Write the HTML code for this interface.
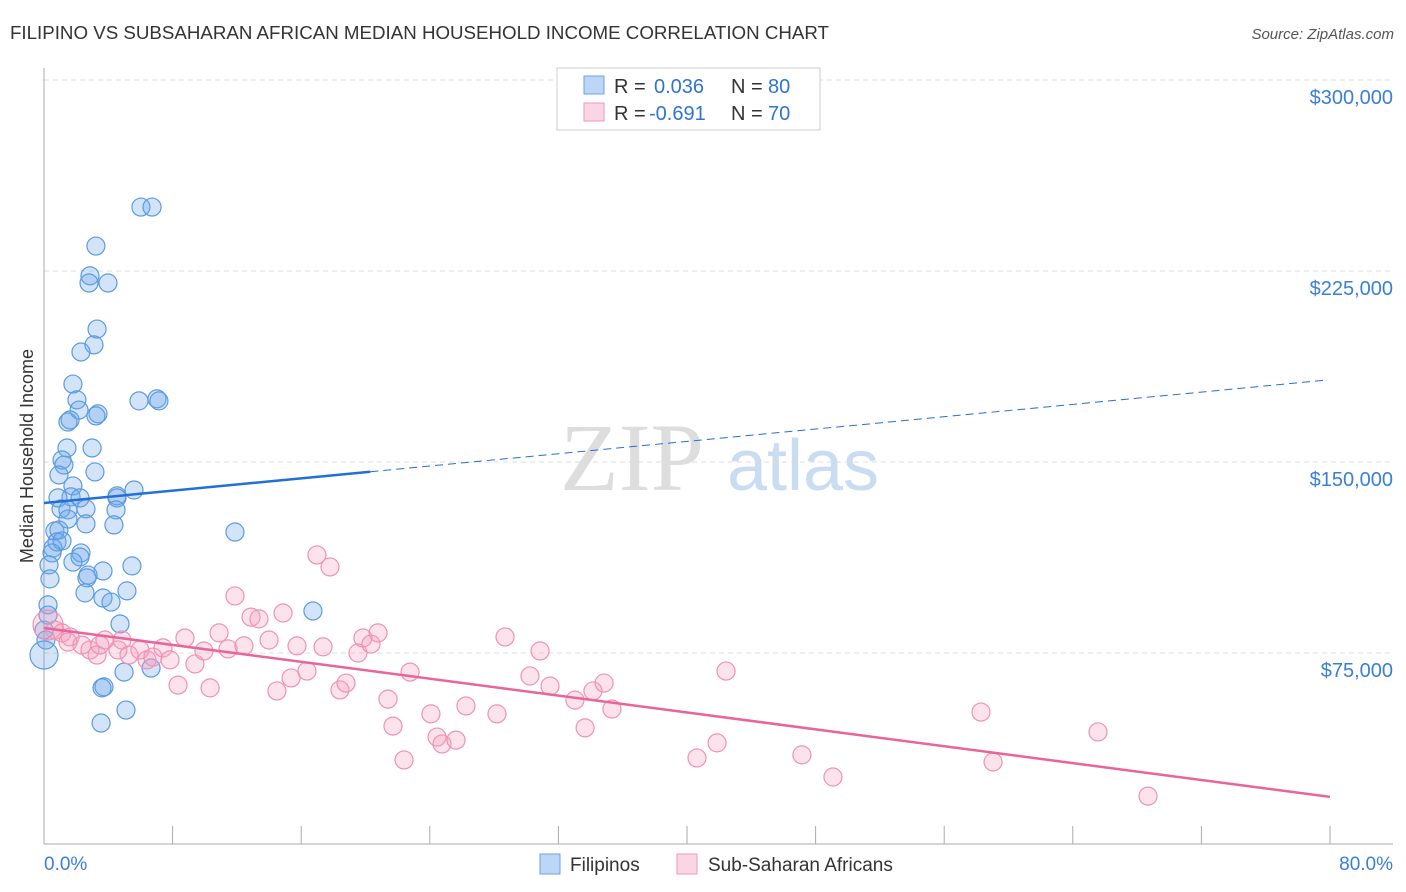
<!DOCTYPE html>
<html><head><meta charset="utf-8"><style>
body{margin:0;background:#fff;font-family:"Liberation Sans",sans-serif;}
svg{display:block}
</style></head><body>
<svg width="1406" height="892" id="chart">
<text x="10" y="39" font-size="18" fill="#333" textLength="819" lengthAdjust="spacingAndGlyphs">FILIPINO VS SUBSAHARAN AFRICAN MEDIAN HOUSEHOLD INCOME CORRELATION CHART</text>
<text x="1394" y="39" font-size="15" fill="#555" font-style="italic" text-anchor="end">Source: ZipAtlas.com</text>
<text x="33" y="456" font-size="18" fill="#333" text-anchor="middle" transform="rotate(-90 33 456)">Median Household Income</text>
<g>
<text x="632" y="490" font-size="96" fill="#ddd" font-family="Liberation Serif,serif" text-anchor="middle">ZIP</text>
<text x="803" y="490" font-size="72" fill="#c9dcf2" text-anchor="middle">atlas</text>
</g>
<g id="grid"></g>
<g id="axes"></g>
<g id="marks"></g>
<g>
<rect x="557" y="68" width="263" height="62" fill="#fff" stroke="#ccc"/>
<rect x="584" y="76" width="20" height="18" fill="rgba(110,165,235,0.45)" stroke="#6aa3e6"/>
<rect x="584" y="103" width="20" height="18" fill="rgba(245,165,195,0.45)" stroke="#ee9ab8"/>
<text x="614" y="93" font-size="20" fill="#333">R =</text>
<text x="654" y="93" font-size="20" fill="#2f74d0">0.036</text>
<text x="731" y="93" font-size="20" fill="#333">N =</text>
<text x="768" y="93" font-size="20" fill="#2f74d0">80</text>
<text x="614" y="120" font-size="20" fill="#333">R =</text>
<text x="649" y="120" font-size="20" fill="#2f74d0">-0.691</text>
<text x="731" y="120" font-size="20" fill="#333">N =</text>
<text x="768" y="120" font-size="20" fill="#2f74d0">70</text>
</g>
<g>
<rect x="540" y="854" width="20" height="20" fill="rgba(110,165,235,0.45)" stroke="#6aa3e6"/>
<text x="570" y="871" font-size="19" fill="#333">Filipinos</text>
<rect x="677" y="854" width="20" height="20" fill="rgba(245,165,195,0.45)" stroke="#ee9ab8"/>
<text x="708" y="871" font-size="19" fill="#333">Sub-Saharan Africans</text>
</g>
</svg>
<script>
const yTicks=[75,150,225,300];
const yTickLabels=["$75,000","$150,000","$225,000","$300,000"];
const xTickLabels=["0.0%","80.0%"];
const blueX=[6.03,6.72,3.23,2.86,3.98,2.80,3.30,3.11,2.30,1.80,2.05,2.18,7.03,7.15,5.91,3.36,3.23,1.49,1.62,1.43,2.99,1.12,1.24,3.17,1.80,0.93,5.60,4.54,4.54,1.68,2.24,0.87,1.06,1.49,2.61,4.48,1.49,0.68,0.93,4.35,2.61,11.88,0.81,0.56,1.12,2.30,2.24,0.50,0.31,5.47,3.67,1.80,2.74,2.67,0.37,2.55,5.16,3.67,4.17,16.73,0.25,0.25,4.73,0,0.12,0,6.66,4.98,3.61,3.73,3.55,5.10];
const blueY=[250.1,250.1,234.8,223.1,220.3,220.3,202.2,196.0,193.2,180.6,174.4,170.4,174.8,174.0,174.0,168.9,168.1,165.7,166.5,155.5,155.5,150.8,148.8,146.1,140.6,144.9,139.0,136.7,135.9,136.3,135.9,135.9,131.6,131.2,131.6,131.2,127.6,122.9,123.3,125.3,125.7,122.5,118.6,116.2,119.0,114.3,112.7,114.3,109.6,109.2,107.2,110.7,105.6,104.5,104.1,98.6,99.4,96.6,95.0,91.5,93.9,89.9,86.4,84.0,80.1,74.2,69.1,67.5,61.3,61.7,47.5,52.6];
const blueR=[9,9,9,9,9,9,9,9,9,9,9,9,9,9,9,9,9,9,9,9,9,9,9,9,9,9,9,9,9,9,9,9,9,9,9,9,9,9,9,9,9,9,9,9,9,9,9,9,9,9,9,9,9,9,9,9,9,9,9,9,9,9,9,9,9,14,9,9,9,9,9,9];
const pinkX=[0.25,0.68,1.12,1.62,1.49,2.36,2.86,3.30,3.48,3.79,4.60,4.85,5.29,5.97,6.41,6.78,7.40,7.84,8.34,8.77,9.39,9.95,10.33,10.89,11.45,11.88,12.44,12.88,13.37,14.00,14.49,14.87,15.37,15.74,16.36,16.98,17.36,17.79,18.41,18.79,19.53,19.84,20.34,20.78,21.40,21.71,22.40,22.77,24.07,24.45,24.76,25.63,26.25,28.18,28.68,30.23,30.86,31.48,33.03,33.66,34.15,34.84,35.33,40.62,41.87,42.43,47.15,49.08,58.29,59.04,65.57,68.68];
const pinkY=[86.0,84.0,82.9,81.3,79.3,78.1,76.2,74.2,78.1,80.1,76.2,80.1,74.2,76.2,72.3,73.4,77.0,72.3,62.4,80.9,70.7,75.8,61.3,82.9,76.6,97.4,77.8,89.1,88.4,80.1,60.1,90.7,65.2,77.8,67.9,113.5,77.4,108.8,60.5,63.2,75.0,80.9,78.5,82.9,56.9,46.3,33.0,67.5,51.1,42.0,39.3,40.8,54.2,51.1,81.3,66.0,75.8,62.0,56.5,45.6,60.1,63.2,53.0,33.8,39.7,67.9,35.0,26.3,51.8,32.2,44.0,18.8];
const blueLine=[133.9,182.3];
const pinkLine=[84.8,18.5];
const NS="http://www.w3.org/2000/svg";
const X0=44,X1=1330,Y0=844,PXK=191/75;
function sx(v){return X0+(X1-X0)*v/80;}
function sy(v){return Y0-v*PXK;}
function mk(tag,attrs,parent){const e=document.createElementNS(NS,tag);for(const k in attrs)e.setAttribute(k,attrs[k]);parent.appendChild(e);return e;}
const grid=document.getElementById('grid'),axes=document.getElementById('axes'),marks=document.getElementById('marks');
yTicks.forEach((t,i)=>{
 const l=mk('line',{x1:X0,x2:1393,y1:sy(t),y2:sy(t),stroke:'#ddd','stroke-dasharray':'5,4'},grid);
 
 
 const tx=mk('text',{x:1393,y:sy(t)+24,'font-size':20,fill:'#3a7fd8','text-anchor':'end'},axes);
 tx.textContent=yTickLabels[i];
 
 
});
const ya=mk('line',{x1:X0,x2:X0,y1:68,y2:Y0,stroke:'#aaa'},axes);


const xa=mk('line',{x1:X0,x2:1393,y1:Y0,y2:Y0,stroke:'#aaa'},axes);


for(let i=0;i<=10;i++){
 const tk=mk('line',{x1:sx(i*8),x2:sx(i*8),y1:826,y2:Y0,stroke:'#aaa'},axes);
 
 
}
[[0,'start',X0],[1,'end',1393]].forEach(([i,a,x])=>{
 const t=mk('text',{x:x,y:870,'font-size':19,fill:'#3a7fd8','text-anchor':a},axes);
 t.textContent=xTickLabels[i];
 
 
});
blueX.forEach((x,i)=>{
 const c=mk('circle',{cx:sx(x),cy:sy(blueY[i]),r:blueR[i],fill:'rgba(110,165,235,0.3)',stroke:'#5b9be0','stroke-width':1.2},marks);
 
 
});
pinkX.forEach((x,i)=>{
 const c=mk('circle',{cx:sx(x),cy:sy(pinkY[i]),r:i==0?15:9,fill:'rgba(245,160,190,0.3)',stroke:'#ee92b4','stroke-width':1.2},marks);
 
 
});
function lv(a,x){return a[0]+(a[1]-a[0])*x/80;}
const bs=mk('line',{x1:sx(0),y1:sy(lv(blueLine,0)),x2:sx(20.3),y2:sy(lv(blueLine,20.3)),stroke:'#2170d6','stroke-width':2.5},marks);


const bd=mk('line',{x1:sx(20.3),y1:sy(lv(blueLine,20.3)),x2:sx(79.7),y2:sy(lv(blueLine,79.7)),stroke:'#2170d6','stroke-width':1,'stroke-dasharray':'8,5'},marks);


const pl=mk('line',{x1:sx(0),y1:sy(lv(pinkLine,0)),x2:sx(80),y2:sy(lv(pinkLine,80)),stroke:'#e8649a','stroke-width':2.5},marks);


</script>
</body></html>
